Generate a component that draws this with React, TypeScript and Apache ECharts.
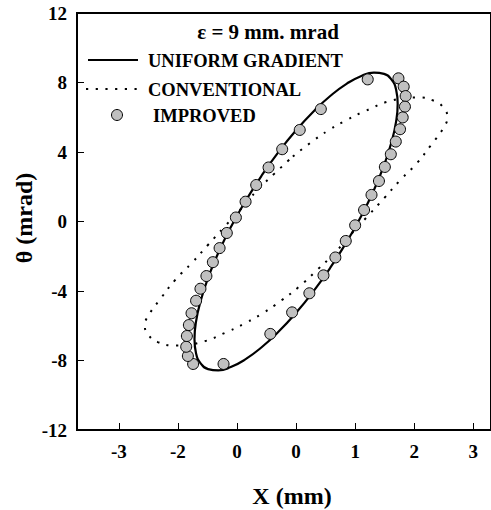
import React, { useEffect, useRef } from "react";
import * as echarts from "echarts";

const xTickValues = [-3, -2, -1, 0, 1, 2, 3];
const xTickLabels = ["-3", "-2", "0", "0", "1", "2", "3"];

const titleText = "ε = 9 mm. mrad";
const legendNames = ["UNIFORM GRADIENT", "CONVENTIONAL", "IMPROVED"];

// solid ellipse (uniform gradient)
const uniformGradient: [number, number][] = [
  [0.0, 5.251], [-0.299, 3.994], [-0.588, 2.616], [-0.86, 1.158], [-1.106, -0.335],
  [-1.318, -1.817], [-1.49, -3.244], [-1.616, -4.573], [-1.694, -5.763], [-1.72, -6.778],
  [-1.694, -7.587], [-1.616, -8.165], [-1.49, -8.496], [-1.318, -8.567], [-1.106, -8.379],
  [-0.86, -7.936], [-0.588, -7.252], [-0.299, -6.348], [0.0, -5.251], [0.299, -3.994],
  [0.588, -2.616], [0.86, -1.158], [1.106, 0.335], [1.318, 1.817], [1.49, 3.244],
  [1.616, 4.573], [1.694, 5.763], [1.72, 6.778], [1.694, 7.587], [1.616, 8.165],
  [1.49, 8.496], [1.318, 8.567], [1.106, 8.379], [0.86, 7.936], [0.588, 7.252],
  [0.299, 6.348], [0.0, 5.251],
];

// dotted ellipse (conventional)
const conventional: [number, number][] = [
  [-0.055, 3.74], [0.263, 4.58], [0.56, 5.27], [0.855, 5.84], [1.146, 6.32], [1.621, 6.96],
  [2.04, 7.14], [2.341, 6.94], [2.5, 6.53], [2.56, 6.0], [2.51, 5.47], [2.289, 4.42],
  [2.038, 3.33], [1.76, 2.37], [1.492, 1.35], [1.2, 0.26], [0.927, -0.75], [0.654, -1.81],
  [0.362, -2.77], [0.055, -3.74], [-0.263, -4.58], [-0.56, -5.27], [-0.855, -5.84],
  [-1.146, -6.32], [-1.621, -6.96], [-2.04, -7.14], [-2.341, -6.94], [-2.5, -6.53],
  [-2.56, -6.0], [-2.51, -5.47], [-2.289, -4.42], [-2.038, -3.33], [-1.76, -2.37],
  [-1.492, -1.35], [-1.2, -0.26], [-0.927, 0.75], [-0.654, 1.81], [-0.362, 2.77],
  [-0.055, 3.74],
];

// circles (improved)
const improved: [number, number][] = [
  [1.733, 8.24], [1.822, 7.76], [1.855, 7.22], [1.843, 6.61], [1.805, 5.99], [1.76, 5.31],
  [1.688, 4.6], [1.604, 3.87], [1.503, 3.14], [1.403, 2.33], [1.277, 1.53], [1.151, 0.66],
  [1.0, -0.22], [0.841, -1.12], [0.665, -2.07], [0.464, -3.1], [0.225, -4.13], [-0.067, -5.23],
  [-0.436, -6.47], [-1.228, -8.2], [-1.743, -8.2], [-1.832, -7.74], [-1.86, -7.21],
  [-1.849, -6.59], [-1.815, -5.96], [-1.77, -5.28], [-1.693, -4.56], [-1.619, -3.87],
  [-1.518, -3.14], [-1.409, -2.34], [-1.295, -1.53], [-1.173, -0.66], [-1.019, 0.23],
  [-0.855, 1.14], [-0.675, 2.1], [-0.466, 3.11], [-0.235, 4.16], [0.062, 5.27],
  [0.419, 6.47], [1.213, 8.18],
];

const FONT = '"Liberation Serif", "Times New Roman", Times, serif';

export default function App() {
  const ref = useRef<HTMLDivElement>(null);

  useEffect(() => {
    const chart = echarts.init(ref.current!, null, { renderer: "svg" });
    const txt = (text: string, x: number, y: number, size: number, align = "left", extra: any = {}) => ({
      type: "text",
      x,
      y,
      ...extra,
      style: {
        text,
        fontFamily: FONT,
        fontWeight: "bold",
        fontSize: size,
        fill: "#000",
        align,
        verticalAlign: "middle",
      },
    });
    chart.setOption({
      animation: false,
      grid: {
        left: 77,
        top: 13,
        width: 418.2,
        height: 417,
        show: true,
        borderColor: "#000",
        borderWidth: 2,
        backgroundColor: "transparent",
      },
      xAxis: {
        type: "value",
        min: -3.709,
        max: 3.3,
        axisLine: { show: true, onZero: false, lineStyle: { color: "#000", width: 2 } },
        axisTick: {
          show: true,
          inside: true,
          length: 7,
          customValues: xTickValues,
          lineStyle: { color: "#000", width: 1 },
        },
        axisLabel: {
          customValues: xTickValues,
          formatter: (v: number) => {
            const i = xTickValues.indexOf(v);
            return i >= 0 ? xTickLabels[i] : "";
          },
          fontFamily: FONT,
          fontWeight: "bold",
          fontSize: 19,
          color: "#000",
          margin: 12,
        },
        splitLine: { show: false },
      },
      yAxis: {
        type: "value",
        min: -12,
        max: 12,
        interval: 4,
        axisLine: { show: true, onZero: false, lineStyle: { color: "#000", width: 2 } },
        axisTick: { show: true, inside: true, length: 7, lineStyle: { color: "#000", width: 1 } },
        axisLabel: {
          fontFamily: FONT,
          fontWeight: "bold",
          fontSize: 19,
          color: "#000",
          margin: 10,
        },
        splitLine: { show: false },
      },
      series: [
        {
          name: legendNames[0],
          type: "line",
          data: uniformGradient,
          smooth: 0.5,
          symbol: "none",
          showSymbol: false,
          lineStyle: { color: "#000", width: 2.2 },
          z: 2,
        },
        {
          name: legendNames[1],
          type: "line",
          data: conventional,
          smooth: 0.5,
          symbol: "none",
          showSymbol: false,
          lineStyle: { color: "#000", width: 2, type: [2.2, 7.5] },
          z: 2,
        },
        {
          name: legendNames[2],
          type: "scatter",
          data: improved,
          symbol: "circle",
          symbolSize: 11,
          itemStyle: { color: "#c0c0c0", borderColor: "#000", borderWidth: 1, opacity: 1 },
          z: 3,
        },
      ],
      graphic: [
        txt(titleText, 268, 32, 21, "center"),
        {
          type: "line",
          shape: { x1: 88, y1: 60, x2: 138, y2: 60 },
          style: { stroke: "#000", lineWidth: 2.2 },
        },
        txt(legendNames[0], 148, 61, 18.5),
        {
          type: "line",
          shape: { x1: 86, y1: 89, x2: 138, y2: 89 },
          style: { stroke: "#000", lineWidth: 2, lineDash: [2.2, 7.5] },
        },
        txt(legendNames[1], 148, 90, 18.5),
        {
          type: "circle",
          shape: { cx: 117, cy: 115, r: 5.5 },
          style: { fill: "#c0c0c0", stroke: "#000", lineWidth: 1 },
        },
        txt(legendNames[2], 153, 116, 18.5),
        txt("X (mm)", 292, 496, 24, "center"),
        txt("θ (mrad)", 24, 218, 24, "center", { rotation: Math.PI / 2 }),
      ],
    });
    return () => chart.dispose();
  }, []);

  return (
    <div
      ref={ref}
      style={{ position: "fixed", left: 0, top: 0, width: 491, height: 510, background: "#fff" }}
    />
  );
}
